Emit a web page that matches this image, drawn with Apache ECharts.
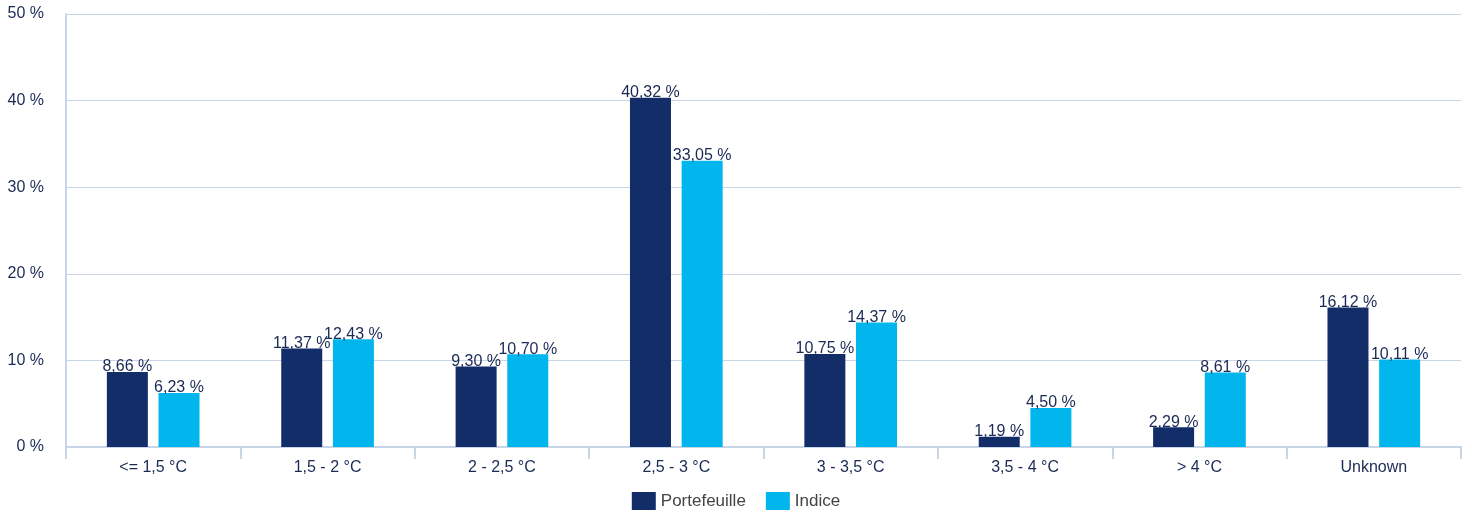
<!DOCTYPE html>
<html lang="fr">
<head>
    <meta charset="UTF-8">
    <title>Température</title>
    <script src="https://cdn.jsdelivr.net/npm/echarts@6/dist/echarts.min.js"></script>
</head>
<body style="margin:0;width:1472px;height:514px">
    <div id="container" style="width:1472px;height:514px"></div>
</body>
<script>
    var categories = ['<= 1,5 °C', '1,5 - 2 °C', '2 - 2,5 °C', '2,5 - 3 °C', '3 - 3,5 °C', '3,5 - 4 °C', '> 4 °C', 'Unknown'];
    var portefeuille = [8.66, 11.37, 9.30, 40.32, 10.75, 1.19, 2.29, 16.12];
    var indice = [6.23, 12.43, 10.70, 33.05, 14.37, 4.50, 8.61, 10.11];

    var dom = document.getElementById("container");
    var myChart = echarts.init(dom);

    function fmt(p) {
        return p.value.toFixed(2).replace('.', ',') + ' %';
    }

    var labelStyle = {
        show: true,
        position: 'top',
        distance: -3,
        color: '#1b2a55',
        fontSize: 16,
        fontFamily: 'Liberation Sans',
        formatter: fmt
    };

    var option = {
        animation: false,
        textStyle: {fontFamily: 'Liberation Sans'},
        grid: {left: 66, right: 11, top: 14, bottom: 67},
        legend: {
            top: 487,
            icon: 'rect',
            itemWidth: 24,
            itemHeight: 18,
            itemGap: 20,
            textStyle: {color: '#444', fontSize: 17},
            data: ['Portefeuille', 'Indice']
        },
        xAxis: {
            type: 'category',
            data: categories,
            axisLine: {lineStyle: {color: '#c8d5e8', width: 2}},
            axisTick: {show: true, length: 12, lineStyle: {color: '#c8d5e8', width: 2}},
            axisLabel: {color: '#1b2a55', fontSize: 16, margin: 13}
        },
        yAxis: {
            type: 'value',
            min: 0,
            max: 50,
            interval: 10,
            axisLine: {show: true, lineStyle: {color: '#c8d5e8', width: 2}},
            axisTick: {show: false},
            splitLine: {lineStyle: {color: '#c8d5e8', width: 1}},
            axisLabel: {color: '#1b2a55', fontSize: 16, margin: 22, formatter: '{value} %'}
        },
        series: [
            {
                name: 'Portefeuille',
                type: 'bar',
                data: portefeuille,
                barWidth: 41,
                barGap: '26%',
                itemStyle: {color: '#122d67'},
                label: labelStyle
            },
            {
                name: 'Indice',
                type: 'bar',
                data: indice,
                barWidth: 41,
                itemStyle: {color: '#00b6ec'},
                label: labelStyle
            }
        ]
    };
    myChart.setOption(option, true);
</script>
</html>
